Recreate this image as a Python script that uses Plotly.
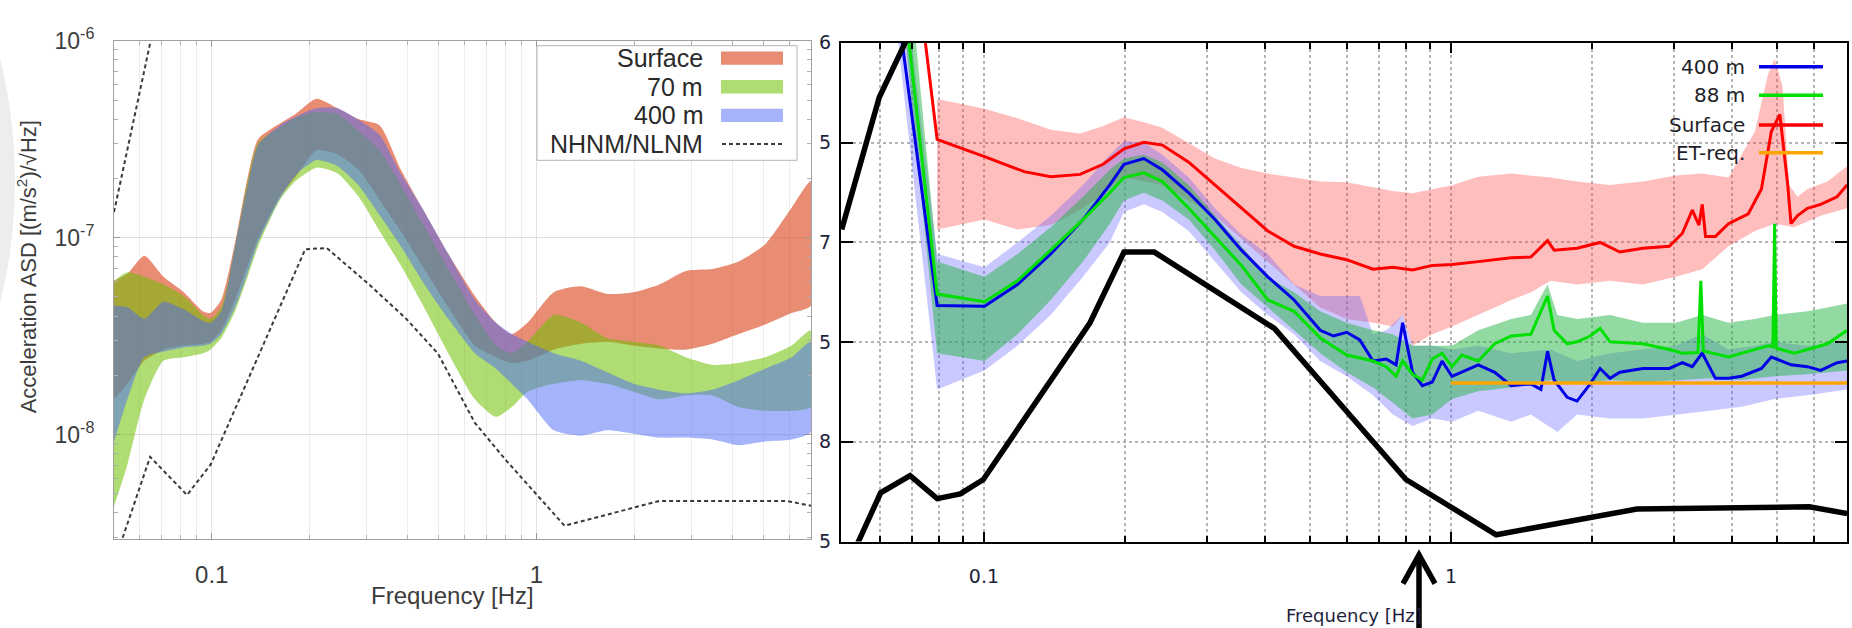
import plotly.graph_objects as go

W, H = 1852, 628


def px(x):
    return x / W


def py(y):
    return 1 - y / H


NANO = 1e-9

# ---------------- left panel: percentile bands (values in 1e-9 (m/s^2)/sqrt(Hz)) -------------
freq_left = [0.050, 0.055, 0.062, 0.071, 0.082, 0.094, 0.099, 0.107, 0.118, 0.129, 0.139, 0.162,
             0.181, 0.210, 0.244, 0.283, 0.329, 0.382, 0.444, 0.535, 0.646, 0.750, 0.839, 0.938,
             1.13, 1.37, 1.65, 1.99, 2.39, 2.88, 3.48, 4.19, 5.06, 6.10, 7.0]

surface_hi = [60.5, 65.6, 81.0, 63.4, 52.9, 42.3, 41.4, 48.4, 94.8, 203, 318, 380, 425, 508, 455, 401,
              372, 222, 142, 82.8, 50.6, 37.0, 32.4, 37.0, 52.9, 56.6, 51.8, 52.9, 57.9, 67.8, 69.3,
              75.7, 92.7, 142, 194]
surface_lo = [15.1, 18.1, 23.7, 27.0, 28.3, 28.9, 29.6, 33.8, 48.4, 72.4, 99, 162, 203, 278, 265, 222,
              155, 108, 72.4, 44.3, 28.3, 24.7, 23.1, 23.7, 27.0, 28.9, 29.6, 28.3, 27.3, 27.0, 28.9,
              32.4, 36.2, 41.4, 45.3]
m70_hi = [60.5, 66.8, 63.4, 57.9, 50.6, 40.5, 38.7, 44.3, 90.6, 194, 304, 363, 406, 435, 425, 348, 278,
          185, 119, 69.3, 40.5, 28.3, 25.9, 29.6, 40.5, 37.0, 30.9, 29.6, 28.3, 24.7, 22.6, 23.1, 24.7,
          28.3, 33.8]
m70_lo = [4.31, 7.05, 15.1, 23.7, 24.7, 25.9, 27.0, 30.9, 42.3, 63.4, 90.6, 155, 194, 227, 212, 162,
          108, 72.4, 46.3, 25.9, 15.1, 12.3, 13.8, 16.5, 18.1, 18.9, 18.1, 16.5, 15.1, 15.8, 15.8, 13.8,
          13.2, 13.2, 13.8]
m400_hi = [45.3, 44.3, 38.7, 47.3, 43.3, 37.8, 37.0, 42.3, 90.6, 185, 297, 372, 412, 455, 455, 397, 332,
           212, 142, 82.8, 48.4, 37.0, 32.4, 29.6, 25.9, 23.7, 20.7, 18.1, 16.9, 16.2, 16.9, 18.9, 21.6,
           24.7, 29.6]
m400_lo = [9.23, 15.1, 24.7, 26.4, 27.7, 28.3, 28.9, 32.4, 44.3, 66.2, 94.8, 158, 207, 248, 231, 185,
           130, 90.6, 60.5, 38.7, 25.9, 21.6, 18.1, 15.1, 10.5, 9.87, 10.5, 10.1, 9.65, 9.65, 9.44, 8.82,
           9.23, 9.44, 10.3]

nhnm_left_f = [0.050, 0.065]
nhnm_left = [135, 1020]
nlnm_left_f = [0.0515, 0.0535, 0.0646, 0.0839, 0.0993, 0.194, 0.226, 0.305, 0.397, 0.497, 0.645, 0.807,
               1.22, 2.39, 5.87, 7.0]
nlnm_left = [2.56, 3.08, 7.7, 4.93, 7.05, 87.4, 88.6, 57.9, 38.7, 25.8, 11.5, 7.37, 3.44, 4.6, 4.6, 4.35]

legend_left = ["Surface", "70 m", "400 m", "NHNM/NLNM"]

# ---------------- right panel: median lines and bands -------------
red_f = [0.0749, 0.0794, 0.1003, 0.122, 0.139, 0.1606, 0.180, 0.1995, 0.220, 0.241, 0.2745, 0.3125,
         0.3559, 0.4054, 0.4615, 0.525, 0.598, 0.681, 0.751, 0.8275, 0.912, 1.005, 1.144, 1.346, 1.483,
         1.610, 1.663, 1.862, 2.086, 2.300, 2.576, 2.934, 3.13, 3.287, 3.396, 3.452, 3.508, 3.683, 3.929,
         4.332, 4.622, 4.853, 5.061, 5.261, 5.347, 5.523, 5.80, 6.19, 6.71, 7.05]
red_v = [1011, 328, 269, 226, 213, 219, 246, 294, 317, 307, 252, 194, 148, 114, 95.5, 87.4, 81.8, 73.3,
         74.9, 72.6, 76.6, 77.3, 80.0, 83.6, 84.4, 102, 91.3, 93.4, 99.8, 89.4, 93.4, 95.5, 111, 145, 122,
         155, 107, 107, 124, 139, 185, 359, 437, 194, 124, 136, 148, 155, 169, 194]

pink_hi_f = [0.0794, 0.1003, 0.118, 0.139, 0.1606, 0.180, 0.1995, 0.220, 0.241, 0.2745, 0.3125, 0.3559,
             0.4054, 0.4615, 0.525, 0.598, 0.681, 0.751, 0.8275, 0.912, 1.005, 1.144, 1.346, 1.636, 1.862,
             2.191, 2.576, 3.03, 3.452, 3.929, 4.475, 4.775, 4.932, 5.128, 5.297, 5.523, 5.80, 6.40, 7.05]
pink_hi = [522, 467, 418, 367, 351, 383, 424, 400, 375, 314, 263, 236, 221, 211, 202, 200, 189, 181, 176,
           185, 193, 213, 221, 211, 202, 194, 202, 216, 221, 211, 359, 695, 829, 609, 194, 169, 185, 202,
           241]
pink_lo_f = [0.0794, 0.1003, 0.118, 0.139, 0.163, 0.1995, 0.241, 0.2745, 0.3125, 0.3559, 0.4054, 0.4615,
             0.525, 0.598, 0.681, 0.751, 0.788, 0.8275, 0.912, 1.005, 1.144, 1.241, 1.346, 1.483, 1.636,
             1.862, 2.191, 2.576, 3.03, 3.452, 3.929, 4.475, 4.932, 5.43, 6.19, 7.05]
pink_lo = [116, 130, 116, 122, 148, 211, 194, 162, 136, 104, 80.0, 61.4, 47.1, 41.3, 39.5, 37.8, 43.2,
           30.3, 34.6, 37.8, 43.2, 47.1, 51.4, 56.2, 64.2, 61.4, 64.2, 61.4, 67.1, 73.3, 95.5, 114, 124,
           119, 136, 148]

blue_f = [0.0668, 0.0794, 0.1003, 0.118, 0.139, 0.163, 0.186, 0.1995, 0.220, 0.241, 0.2745, 0.3125,
          0.3559, 0.4054, 0.4615, 0.525, 0.5604, 0.598, 0.638, 0.681, 0.727, 0.763, 0.788, 0.8275, 0.8685,
          0.912, 0.957, 1.005, 1.144, 1.241, 1.346, 1.483, 1.558, 1.610, 1.663, 1.774, 1.862, 1.987, 2.086,
          2.191, 2.300, 2.576, 2.934, 3.13, 3.287, 3.452, 3.683, 3.929, 4.194, 4.622, 4.853, 5.347, 5.80,
          6.19, 6.71, 7.05]
blue_v = [1011, 48.2, 47.8, 61.4, 87.4, 130, 194, 246, 263, 231, 177, 130, 91.3, 67.1, 51.4, 36.2, 33.9,
          35.4, 32.4, 25.4, 26.0, 24.3, 39.5, 22.3, 19.1, 19.9, 25.4, 21.3, 24.3, 22.3, 19.1, 19.5, 18.3,
          28.4, 20.4, 16.7, 16.0, 19.5, 23.3, 20.8, 22.3, 23.3, 23.3, 24.9, 23.8, 27.8, 20.8, 20.8, 21.3,
          23.3, 26.6, 24.3, 23.8, 22.8, 24.9, 25.4]

green_f = [0.0691, 0.0794, 0.1003, 0.118, 0.139, 0.163, 0.186, 0.1995, 0.220, 0.241, 0.2745, 0.3125,
           0.3559, 0.4054, 0.4615, 0.525, 0.598, 0.681, 0.727, 0.763, 0.788, 0.8275, 0.8685, 0.912, 0.957,
           1.005, 1.055, 1.144, 1.241, 1.346, 1.483, 1.610, 1.663, 1.774, 1.862, 1.987, 2.086, 2.191, 2.576,
           2.934, 3.13, 3.38, 3.428, 3.47, 3.929, 4.332, 4.775, 4.89, 4.932, 4.97, 5.43, 5.80, 6.40, 7.05]
green_v = [1011, 55.0, 50.4, 64.2, 91.3, 130, 177, 211, 223, 202, 148, 107, 76.6, 51.4, 45.1, 33.1, 27.2,
           25.4, 23.8, 21.3, 25.4, 21.8, 20.4, 26.0, 27.8, 23.8, 27.2, 25.4, 31.0, 33.9, 34.6, 53.8, 36.2,
           31.0, 31.7, 33.9, 37.0, 31.7, 31.0, 29.0, 27.8, 28.0, 64.2, 28.5, 26.6, 28.4, 30.3, 30.0, 124,
           29.5, 27.8, 29.0, 31.0, 36.2]

bband_hi_f = [0.0700, 0.0794, 0.1003, 0.118, 0.139, 0.163, 0.186, 0.1995, 0.220, 0.241, 0.2745, 0.3125,
              0.3559, 0.4054, 0.4615, 0.525, 0.638, 0.681, 0.727, 0.788, 0.8275, 0.912, 1.005, 1.144, 1.346,
              1.636, 1.862, 2.191, 2.576, 3.03, 3.452, 3.929, 4.475, 4.932, 5.80, 7.05]
bband_hi = [1011, 87.4, 74.9, 99.8, 136, 194, 275, 321, 317, 275, 211, 148, 109, 87.4, 61.4, 53.8, 53.8,
            34.6, 36.2, 43.2, 30.3, 30.3, 29.0, 30.3, 27.8, 29.0, 25.4, 27.8, 29.0, 30.3, 34.6, 29.0,
            30.3, 31.7, 30.3, 31.7]
bband_lo_f = [0.0655, 0.0794, 0.1003, 0.118, 0.139, 0.163, 0.186, 0.1995, 0.220, 0.241, 0.2745, 0.3125,
              0.3559, 0.4054, 0.4615, 0.525, 0.598, 0.681, 0.751, 0.8275, 0.912, 1.005, 1.144, 1.346, 1.483,
              1.69, 1.862, 2.191, 2.576, 3.03, 3.58, 4.194, 4.932, 5.80, 7.05]
bband_lo = [1011, 18.3, 22.8, 30.3, 43.2, 67.1, 99.8, 142, 155, 142, 114, 80.0, 56.2, 43.2, 34.6, 25.4,
            21.3, 17.1, 13.7, 12.0, 13.1, 12.6, 14.3, 12.6, 13.7, 11.2, 13.7, 13.1, 13.1, 13.7, 14.3, 15.0,
            16.4, 17.1, 18.3]

gband_hi_f = [0.0715, 0.0794, 0.1003, 0.118, 0.139, 0.163, 0.186, 0.1995, 0.220, 0.241, 0.2745, 0.3125,
              0.3559, 0.4054, 0.4615, 0.525, 0.598, 0.681, 0.751, 0.8275, 0.912, 1.005, 1.144, 1.346, 1.483,
              1.610, 1.69, 1.862, 2.191, 2.576, 3.03, 3.452, 3.929, 4.475, 4.932, 5.80, 6.40, 7.05]
gband_hi = [1011, 80.0, 67.1, 87.4, 119, 169, 231, 263, 275, 252, 194, 136, 95.5, 67.1, 56.2, 45.1, 39.5,
            36.2, 34.6, 30.3, 30.3, 30.3, 36.2, 41.3, 43.2, 61.4, 43.2, 41.3, 43.2, 39.5, 39.5, 43.2, 39.5,
            41.3, 43.2, 45.1, 47.1, 49.3]
gband_lo_f = [0.0680, 0.0794, 0.1003, 0.118, 0.139, 0.163, 0.186, 0.1995, 0.220, 0.241, 0.2745, 0.3125,
              0.3559, 0.4054, 0.4615, 0.525, 0.598, 0.681, 0.751, 0.8275, 0.912, 1.005, 1.144, 1.346, 1.636,
              1.862, 2.191, 2.576, 3.03, 3.58, 4.194, 4.932, 5.80, 7.05]
gband_lo = [1011, 27.8, 25.4, 34.6, 51.4, 80.0, 124, 162, 177, 162, 130, 91.3, 61.4, 47.1, 36.2, 27.8,
            22.3, 18.7, 15.7, 13.1, 13.7, 16.4, 17.9, 18.7, 20.4, 19.5, 20.4, 19.9, 20.4, 20.8, 20.4, 21.3,
            21.8, 22.8]

et_f = [1.0, 7.05]
et_v = [19.7, 19.7]

nhnm_right_f = [0.0496, 0.0597, 0.0695]
nhnm_right = [116, 533, 1129]
nlnm_right_f = [0.0535, 0.0601, 0.0695, 0.0794, 0.0890, 0.0997, 0.1687, 0.1995, 0.2317, 0.4188, 0.801,
                1.25, 2.50, 5.85, 7.05]
nlnm_right = [3.05, 5.55, 6.76, 5.19, 5.48, 6.47, 39.5, 89.3, 89.3, 37.0, 6.47, 3.42, 4.60, 4.72, 4.37]

legend_right = ["400 m", "88 m", "Surface", "ET-req."]
right_ytick_vals = [10 ** -8.5, 1e-8, 10 ** -7.5, 1e-7, 10 ** -6.5, 1e-6]
right_ytick_text = ["5", "8", "5", "7", "5", "6"]

# ---------------- colours -------------
C_SURF = "rgba(220,78,40,0.65)"
C_70 = "rgba(110,191,0,0.55)"
C_400 = "rgba(75,105,245,0.5)"
C_PINK = "rgba(255,70,70,0.35)"
C_LAV = "rgba(90,90,255,0.33)"
C_LGREEN = "rgba(40,180,70,0.5)"
C_RED = "#ff0000"
C_BLUE = "#0000e6"
C_GREEN = "#00e000"
C_ORANGE = "#ffa500"

fig = go.Figure()


def scale(vals):
    return [v * NANO for v in vals]


def band(f_hi, v_hi, f_lo, v_lo, color, xa, ya, shape="linear"):
    fig.add_trace(go.Scatter(
        x=list(f_hi) + list(f_lo)[::-1],
        y=scale(v_hi) + scale(v_lo)[::-1],
        fill="toself", fillcolor=color, mode="lines",
        line=dict(width=0, shape=shape, smoothing=0.6) if shape == "spline" else dict(width=0),
        hoverinfo="skip", showlegend=False, xaxis=xa, yaxis=ya))


def curve(f, v, color, width, xa, ya, dash=None):
    fig.add_trace(go.Scatter(
        x=f, y=scale(v), mode="lines",
        line=dict(color=color, width=width, dash=dash),
        hoverinfo="skip", showlegend=False, xaxis=xa, yaxis=ya))


# left panel
band(freq_left, surface_hi, freq_left, surface_lo, C_SURF, "x", "y", "spline")
band(freq_left, m70_hi, freq_left, m70_lo, C_70, "x", "y", "spline")
band(freq_left, m400_hi, freq_left, m400_lo, C_400, "x", "y", "spline")
curve(nhnm_left_f, nhnm_left, "#3a3a3a", 2, "x", "y", "4px,3px")
curve(nlnm_left_f, nlnm_left, "#3a3a3a", 2, "x", "y", "4px,3px")

# right panel
band(pink_hi_f, pink_hi, pink_lo_f, pink_lo, C_PINK, "x2", "y2")
band(bband_hi_f, bband_hi, bband_lo_f, bband_lo, C_LAV, "x2", "y2")
band(gband_hi_f, gband_hi, gband_lo_f, gband_lo, C_LGREEN, "x2", "y2")
curve(blue_f, blue_v, C_BLUE, 3, "x2", "y2")
curve(green_f, green_v, C_GREEN, 3, "x2", "y2")
curve(red_f, red_v, C_RED, 3, "x2", "y2")
curve(et_f, et_v, C_ORANGE, 3.5, "x2", "y2")
curve(nhnm_right_f, nhnm_right, "#000000", 5.5, "x2", "y2")
curve(nlnm_right_f, nlnm_right, "#000000", 5.5, "x2", "y2")

# ---------------- axes -------------
LEFT_FONT = "Liberation Sans, Arial, sans-serif"
RIGHT_FONT = "DejaVu Sans, Verdana, sans-serif"

minor_x = [0.06, 0.07, 0.08, 0.09, 0.2, 0.3, 0.4, 0.5, 0.6, 0.7, 0.8, 0.9, 2, 3, 4, 5, 6, 7]
minor_y_left = [m * 10.0 ** e for e in (-9, -8, -7) for m in range(2, 10)]

fig.update_layout(
    width=W, height=H, margin=dict(l=0, r=0, t=0, b=0),
    paper_bgcolor="white", plot_bgcolor="white", showlegend=False,
    xaxis=dict(
        type="log", range=[-1.30103, 0.845098], domain=[px(114), px(811)], anchor="y",
        tickvals=[0.1, 1], ticktext=["0.1", "1"], ticks="inside", ticklen=6, tickcolor="#999999",
        showgrid=True, gridcolor="#e2e2e2", gridwidth=1,
        showline=True, linecolor="#a0a0a0", linewidth=1, mirror="ticks",
        tickfont=dict(family=LEFT_FONT, size=24, color="#3c3c3c"), ticklabelstandoff=15,
        minor=dict(tickvals=minor_x, ticks="inside", ticklen=4, tickcolor="#b0b0b0",
                   showgrid=True, gridcolor="#ececec", gridwidth=1),
        zeroline=False,
    ),
    yaxis=dict(
        type="log", range=[-8.529, -6], domain=[py(546), py(25)], anchor="x",
        tickvals=[1e-8, 1e-7, 1e-6],
        ticktext=["10<sup>-8</sup>", "10<sup>-7</sup>", "10<sup>-6</sup>"],
        ticks="inside", ticklen=6, tickcolor="#999999",
        showgrid=True, gridcolor="#dedede", gridwidth=1,
        showline=True, linecolor="#a0a0a0", linewidth=1, mirror="ticks",
        tickfont=dict(family=LEFT_FONT, size=23, color="#3c3c3c"), ticklabelstandoff=14,
        minor=dict(tickvals=minor_y_left, ticks="inside", ticklen=4, tickcolor="#b0b0b0", showgrid=False),
        zeroline=False,
    ),
    xaxis2=dict(
        type="log", range=[-1.306, 0.848], domain=[px(841), px(1847)], anchor="y2",
        tickvals=[0.1, 1], ticktext=["0.1", "1"], ticks="inside", ticklen=10, tickwidth=2,
        tickcolor="#000000",
        showgrid=True, gridcolor="#b4b4b4", gridwidth=1.5, griddash="dot",
        showline=True, linecolor="#000000", linewidth=2, mirror="ticks",
        tickfont=dict(family=RIGHT_FONT, size=19, color="#1e1e3c"), ticklabelstandoff=17,
        minor=dict(tickvals=minor_x[:-1], ticks="inside", ticklen=6, tickwidth=2, tickcolor="#000000",
                   showgrid=True, gridcolor="#b4b4b4", gridwidth=1.5, griddash="dot"),
        zeroline=False,
    ),
    yaxis2=dict(
        type="log", range=[-8.5, -6], domain=[py(549), py(27)], anchor="x2",
        tickvals=right_ytick_vals, ticktext=right_ytick_text,
        ticks="inside", ticklen=12, tickwidth=2, tickcolor="#000000",
        showgrid=True, gridcolor="#b4b4b4", gridwidth=1.5, griddash="dot",
        showline=True, linecolor="#000000", linewidth=2, mirror="ticks",
        tickfont=dict(family=RIGHT_FONT, size=19, color="#1e1e3c"), ticklabelstandoff=4,
        zeroline=False,
    ),
)

shapes = []
annotations = []

# faint rounded edge at the far left
shapes.append(dict(type="circle", xref="paper", yref="paper",
                   x0=px(-1101), x1=px(15), y0=py(729), y1=py(-387),
                   fillcolor="#ededed", line=dict(width=0), layer="below"))

# left legend box
shapes.append(dict(type="rect", xref="paper", yref="paper", x0=px(537), x1=px(797), y0=py(150), y1=py(30),
                   fillcolor="white", line=dict(color="#b4b4b4", width=1), layer="above"))
left_rows = [43, 73, 103, 133]
left_swatch = [C_SURF, C_70, C_400]
for label, yy in zip(legend_left, left_rows):
    annotations.append(dict(text=label, xref="paper", yref="paper", x=px(705), y=py(yy),
                            xanchor="right", yanchor="middle", showarrow=False,
                            font=dict(family=LEFT_FONT, size=25, color="#2a2a2a")))
for col, yy in zip(left_swatch, left_rows):
    shapes.append(dict(type="rect", xref="paper", yref="paper", x0=px(721), x1=px(783),
                       y0=py(yy + 7), y1=py(yy - 7), fillcolor=col, line=dict(width=0), layer="above"))
shapes.append(dict(type="line", xref="paper", yref="paper", x0=px(722), x1=px(783),
                   y0=py(133), y1=py(133), line=dict(color="#3a3a3a", width=2, dash="4px,3px"),
                   layer="above"))

# right legend
right_rows = [52, 82, 113, 142]
right_cols = [C_BLUE, C_GREEN, C_RED, C_ORANGE]
for label, yy, col in zip(legend_right, right_rows, right_cols):
    annotations.append(dict(text=label, xref="paper", yref="paper", x=px(1747), y=py(yy),
                            xanchor="right", yanchor="middle", showarrow=False,
                            font=dict(family=RIGHT_FONT, size=20, color="#1e1e28")))
    shapes.append(dict(type="line", xref="paper", yref="paper", x0=px(1759), x1=px(1823),
                       y0=py(yy), y1=py(yy), line=dict(color=col, width=3.5), layer="above"))

# axis titles
annotations.append(dict(text="Acceleration ASD [(m/s<sup>2</sup>)/\u221aHz]", xref="paper", yref="paper",
                        x=px(27), y=py(262), textangle=-90, showarrow=False,
                        xanchor="center", yanchor="middle",
                        font=dict(family=LEFT_FONT, size=22, color="#3c3c3c")))
annotations.append(dict(text="Frequency [Hz]", xref="paper", yref="paper", x=px(452), y=py(606),
                        showarrow=False, xanchor="center", yanchor="middle",
                        font=dict(family=LEFT_FONT, size=24, color="#3c3c3c")))
annotations.append(dict(text="Frequency [Hz]", xref="paper", yref="paper", x=px(1424), y=py(626),
                        showarrow=False, xanchor="right", yanchor="middle",
                        font=dict(family=RIGHT_FONT, size=18, color="#1e1e3c")))

# arrow under the 1 Hz tick
shapes.append(dict(type="line", xref="paper", yref="paper", x0=px(1419), x1=px(1419), y0=py(566),
                   y1=py(640), line=dict(color="black", width=5.5), layer="above"))
shapes.append(dict(type="path", xref="paper", yref="paper",
                   path=f"M {px(1403)},{py(593)} L {px(1419)},{py(563)} L {px(1435)},{py(593)}",
                   line=dict(color="black", width=5.5), layer="above"))

fig.update_layout(shapes=shapes, annotations=annotations)
fig.write_html("out.html")
